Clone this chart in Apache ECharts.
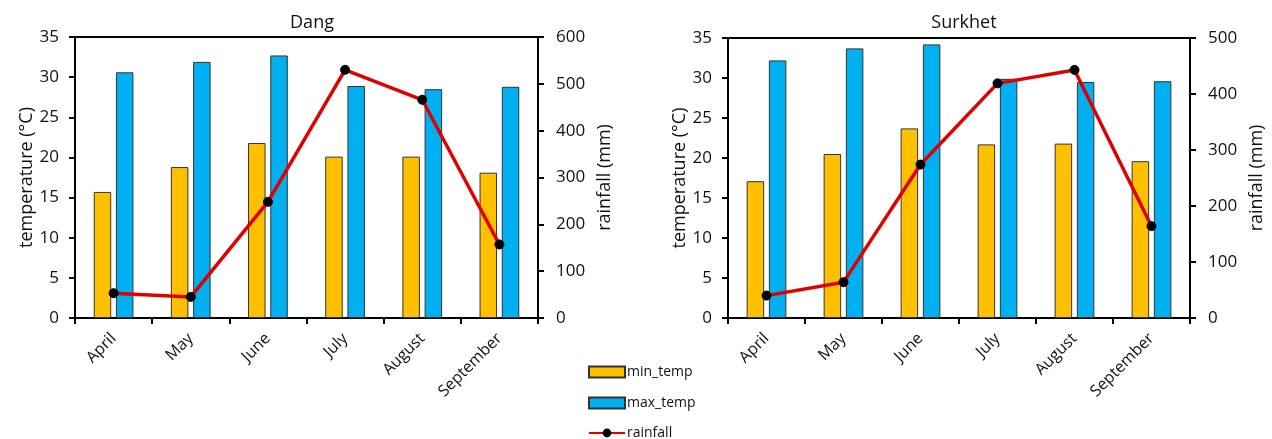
<!DOCTYPE html>
<html>
<head>
<meta charset="utf-8">
<script src="https://cdn.jsdelivr.net/npm/echarts@6/dist/echarts.min.js"></script>
<style>
html,body{margin:0;padding:0;background:#fff;}
#c{width:1272px;height:439px;}
</style>
</head>
<body>
<div id="c"></div>
<script>
const months = ['April', 'May', 'June', 'July', 'August', 'September'];
const dangMin = [15.7, 18.8, 21.8, 20.1, 20.1, 18.1];
const dangMax = [30.6, 31.9, 32.7, 28.9, 28.5, 28.8];
const dangRain = [53, 45, 248, 530, 466, 157];
const surkhetMin = [17.1, 20.5, 23.7, 21.7, 21.8, 19.6];
const surkhetMax = [32.2, 33.7, 34.2, 29.9, 29.5, 29.6];
const surkhetRain = [40, 64, 274, 419, 443, 164];
const titles = ['Dang', 'Surkhet'];
const legendNames = ['min_temp', 'max_temp', 'rainfall'];

const FONT = 'Open Sans';
const minColor = '#FFC000';
const maxColor = '#00B0F0';
const rainColor = '#E00000';

const chart = echarts.init(document.getElementById('c'), null, {renderer: 'canvas'});

const grids = [
  {left: 75, right: 734, top: 37, bottom: 121},
  {left: 728, right: 82, top: 38, bottom: 121}
];

const axisLine = {show: true, lineStyle: {color: '#000', width: 2}};
const axisTick = {show: true, length: 6, lineStyle: {color: '#000', width: 2}};
const labelStyle = {color: '#111', fontSize: 17, fontFamily: FONT};
const nameStyle = {color: '#111', fontSize: 18, fontFamily: FONT};

function xAxis(i) {
  return {
    type: 'category', gridIndex: i, data: months,
    axisLine, axisTick,
    axisLabel: {interval: 0, rotate: 45, color: '#111', fontSize: 16, fontFamily: FONT, margin: 18},
    splitLine: {show: false}
  };
}
function yTemp(i) {
  return {
    type: 'value', gridIndex: i, min: 0, max: 35, interval: 5, position: 'left',
    name: 'temperature (°C)', nameLocation: 'middle', nameGap: 38, nameTextStyle: nameStyle,
    axisLine, axisTick, axisLabel: Object.assign({margin: 16}, labelStyle), splitLine: {show: false}
  };
}
function yRain(i, max) {
  return {
    type: 'value', gridIndex: i, min: 0, max: max, interval: 100, position: 'right',
    name: 'rainfall (mm)', nameLocation: 'middle', nameGap: 58, nameTextStyle: nameStyle,
    axisLine, axisTick, axisLabel: Object.assign({margin: 18}, labelStyle), splitLine: {show: false}
  };
}

const barCommon = {type: 'bar', barWidth: 17.5, barGap: '27%'};
function bars(i, mins, maxs) {
  return [
    Object.assign({}, barCommon, {name: 'min_temp', xAxisIndex: i, yAxisIndex: i * 2, data: mins,
      itemStyle: {color: minColor, borderColor: '#333', borderWidth: 1}}),
    Object.assign({}, barCommon, {name: 'max_temp', xAxisIndex: i, yAxisIndex: i * 2, data: maxs,
      itemStyle: {color: maxColor, borderColor: '#333', borderWidth: 1}})
  ];
}
function line(i, rain) {
  return {
    name: 'rainfall', type: 'line', xAxisIndex: i, yAxisIndex: i * 2 + 1, data: rain,
    symbol: 'circle', symbolSize: 9, z: 5,
    lineStyle: {color: rainColor, width: 3.5},
    itemStyle: {color: '#000', borderColor: '#000'}
  };
}

const legendTops = [360, 391, 421];
const legends = legendNames.map((n, k) => ({
  orient: 'vertical', left: 583, top: legendTops[k], itemWidth: 36, itemHeight: 11,
  selectedMode: false,
  textStyle: {fontSize: 14, color: '#111', fontFamily: FONT, padding: [0, 0, 0, -3]},
  data: [k < 2 ? {name: n, icon: 'rect'} : {name: n}]
}));

const option = {
  backgroundColor: '#fff',
  animation: false,
  title: [
    {text: titles[0], left: 307, top: 9, textAlign: 'center', textStyle: {fontSize: 18, fontWeight: 'normal', color: '#111', fontFamily: FONT}},
    {text: titles[1], left: 959, top: 9, textAlign: 'center', textStyle: {fontSize: 18, fontWeight: 'normal', color: '#111', fontFamily: FONT}}
  ],
  legend: legends,
  grid: grids.map(g => Object.assign({show: true, borderColor: '#000', borderWidth: 2, backgroundColor: 'transparent'}, g)),
  xAxis: [xAxis(0), xAxis(1)],
  yAxis: [yTemp(0), yRain(0, 600), yTemp(1), yRain(1, 500)],
  series: [].concat(bars(0, dangMin, dangMax), [line(0, dangRain)], bars(1, surkhetMin, surkhetMax), [line(1, surkhetRain)])
};
chart.setOption(option);
</script>
</body>
</html>
